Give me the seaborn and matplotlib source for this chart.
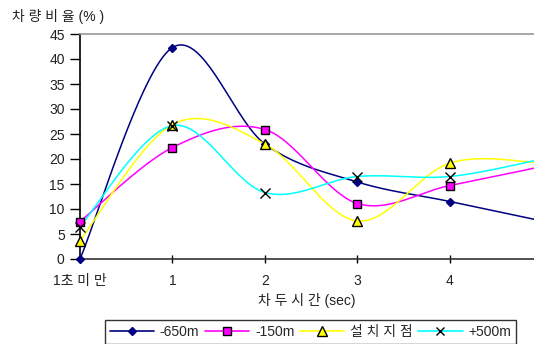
import numpy as np
import pandas as pd
import matplotlib
matplotlib.use("Agg")
import matplotlib.pyplot as plt
import seaborn as sns
from matplotlib.lines import Line2D

# Headway categories (x positions 0..5) and share of vehicles (%) per measuring point
categories = ["1초 미 만", "1", "2", "3", "4", "5"]
x_pos = [0, 1, 2, 3, 4, 5]
series_names = ["-650m", "-150m", "설 치 지 점", "+500m"]
s_650 = [0.0, 42.3, 23.0, 15.4, 11.5, 7.6]
s_150 = [7.5, 22.3, 25.9, 11.1, 14.7, 18.5]
s_site = [3.7, 26.9, 23.0, 7.6, 19.2, 19.2]
s_500 = [6.5, 26.7, 13.3, 16.5, 16.5, 20.0]

colors = ["#000080", "#FF00FF", "#FFFF00", "#00FFFF"]
markers = ["D", "s", "^", "x"]
msizes = [4.5, 6, 6.5, 6.5]

sns.set_theme(style="white")
plt.rcParams["font.family"] = ["Liberation Sans", "Noto Sans CJK KR"]


def smooth(xs, ys, n=40):
    """Cardinal (Catmull-Rom style) Bezier smoothing like spreadsheet smoothed lines."""
    pts = np.column_stack([xs, ys]).astype(float)
    out = []
    m = len(pts)
    for i in range(m - 1):
        p0 = pts[max(i - 1, 0)]
        p1 = pts[i]
        p2 = pts[i + 1]
        p3 = pts[min(i + 2, m - 1)]
        c1 = p1 + (p2 - p0) / 6.0
        c2 = p2 - (p3 - p1) / 6.0
        t = np.linspace(0, 1, n)[:, None]
        seg = ((1 - t) ** 3) * p1 + 3 * ((1 - t) ** 2) * t * c1 + 3 * (1 - t) * t ** 2 * c2 + t ** 3 * p2
        out.append(seg if i == 0 else seg[1:])
    return np.vstack(out)


rows = []
for name, vals in zip(series_names, [s_650, s_150, s_site, s_500]):
    curve = smooth(x_pos, vals)
    rows.append(pd.DataFrame({"x": curve[:, 0], "y": curve[:, 1], "series": name}))
curves = pd.concat(rows, ignore_index=True)

points = pd.DataFrame({
    "x": np.tile(x_pos, 4),
    "y": np.concatenate([s_650, s_150, s_site, s_500]),
    "series": np.repeat(series_names, len(x_pos)),
})

fig = plt.figure(figsize=(5.34, 3.44), dpi=100)
ax = fig.add_axes([80 / 534, 1 - 259 / 344, 1 - 80 / 534, (259 - 34) / 344])

palette = dict(zip(series_names, colors))
sns.lineplot(data=curves, x="x", y="y", hue="series", palette=palette,
             sort=False, estimator=None, linewidth=1.1, legend=False, ax=ax)

xmax = 4.91
for name, c, mk, ms in zip(series_names, colors, markers, msizes):
    sub = points[(points["series"] == name) & (points["x"] <= xmax)]
    if mk == "x":
        ax.plot(sub["x"], sub["y"], linestyle="none", marker="x", color="black",
                markersize=ms, markeredgewidth=1.0, zorder=5, clip_on=False)
    else:
        edge = "#000080" if mk == "D" else "black"
        ax.plot(sub["x"], sub["y"], linestyle="none", marker=mk, markerfacecolor=c,
                markeredgecolor=edge, markersize=ms, markeredgewidth=1.0, zorder=5,
                clip_on=False)

ax.set_xlim(0, xmax)
ax.set_ylim(0, 45)
ax.set_yticks(range(0, 50, 5))
ax.set_xticks(x_pos[:5])
ax.set_xticklabels(categories[:5])
ax.tick_params(axis="y", direction="out", length=7, width=1, color="black",
               labelsize=10, pad=4, left=True)
ax.tick_params(axis="x", direction="inout", length=6, width=1, color="black",
               labelsize=10, pad=8, bottom=True)
for lbl in ax.get_xticklabels() + ax.get_yticklabels():
    lbl.set_color("#222222")

ax.spines["left"].set_color("black")
ax.spines["left"].set_linewidth(1.2)
ax.spines["bottom"].set_color("#333333")
ax.spines["bottom"].set_linewidth(1.2)
ax.spines["top"].set_color("#999999")
ax.spines["top"].set_linewidth(1.2)
ax.spines["right"].set_visible(False)
ax.set_xlabel("")
ax.set_ylabel("")
ax.grid(False)

fig.text(12 / 534, 1 - 17 / 344, "차 량 비 율 (% )", fontsize=10, color="#222222",
         ha="left", va="center")
fig.text(307 / 534, 1 - 300 / 344, "차 두 시 간 (sec)", fontsize=10, color="#222222",
         ha="center", va="center")

handles = []
for name, c, mk, ms in zip(series_names, colors, markers, msizes):
    if mk == "x":
        h = Line2D([0], [0], color=c, lw=1.2, marker="x", markeredgecolor="black",
                   markersize=6)
    else:
        edge = "#000080" if mk == "D" else "black"
        h = Line2D([0], [0], color=c, lw=1.2, marker=mk, markerfacecolor=c,
                   markeredgecolor=edge, markersize=ms)
    handles.append(h)

leg = fig.legend(handles, series_names, loc="upper left",
                 bbox_to_anchor=(105 / 534, 1 - 320 / 344, (516 - 105) / 534, 0.0),
                 mode="expand", ncol=4, frameon=True, fontsize=10, handlelength=3.2,
                 handletextpad=0.4, columnspacing=1.0, borderaxespad=0, borderpad=0.35,
                 fancybox=False)
leg.get_frame().set_edgecolor("black")
leg.get_frame().set_linewidth(1.0)

fig.savefig("out.png", dpi=100)
